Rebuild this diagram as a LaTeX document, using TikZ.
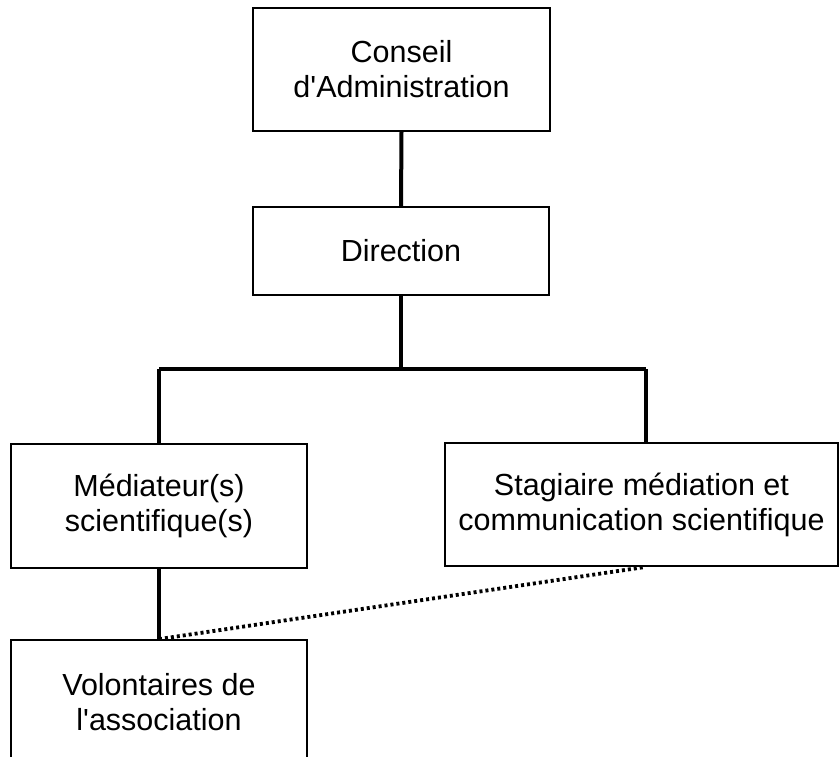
\documentclass[tikz,border=0pt]{standalone}
\usepackage{fontspec}
\setmainfont{Liberation Sans}
\begin{document}
\begin{tikzpicture}[x=1pt,y=-1pt,
  orgbox/.style={draw=black,line width=1.8pt,minimum width=#1,inner sep=0pt,align=center,
    font=\fontsize{30.5}{35}\selectfont},
  link/.style={line width=4pt},
  dotlink/.style={line width=3.8pt,dash pattern=on 3pt off 3pt}]
\useasboundingbox (0,0) rectangle (839,757);
\clip (0,0) rectangle (839,757);
\node[orgbox=297pt,minimum height=123pt] (ca) at (401.5,69.5) {Conseil\\d\textquotesingle Administration};
\node[orgbox=296pt,minimum height=88pt] (dir) at (401,251) {Direction};
\node[orgbox=296pt,minimum height=124pt] (med) at (159,506) {Médiateur(s)\\scientifique(s)};
\node[orgbox=393pt,minimum height=123pt] (stag) at (641.5,504.5) {Stagiaire médiation et\\communication scientifique};
\node[orgbox=296pt,minimum height=124pt] (vol) at (159,702) {Volontaires de\\l\textquotesingle association};
\coordinate (hub) at (401,369);
\coordinate (hl) at (159,369);
\coordinate (hr) at (646,369);
\coordinate (sbot) at (645,567);
\draw[link] (ca.south) -- (dir.north);
\draw[link] (dir.south) -- (hub);
\draw[link] (hl) -- (hr);
\draw[link] (hl) -- (med.north);
\draw[link] (hr) -- (hr |- stag.north);
\draw[link] (med.south) -- (vol.north);
\draw[dotlink] (vol.north) -- (sbot);
\end{tikzpicture}
\end{document}
